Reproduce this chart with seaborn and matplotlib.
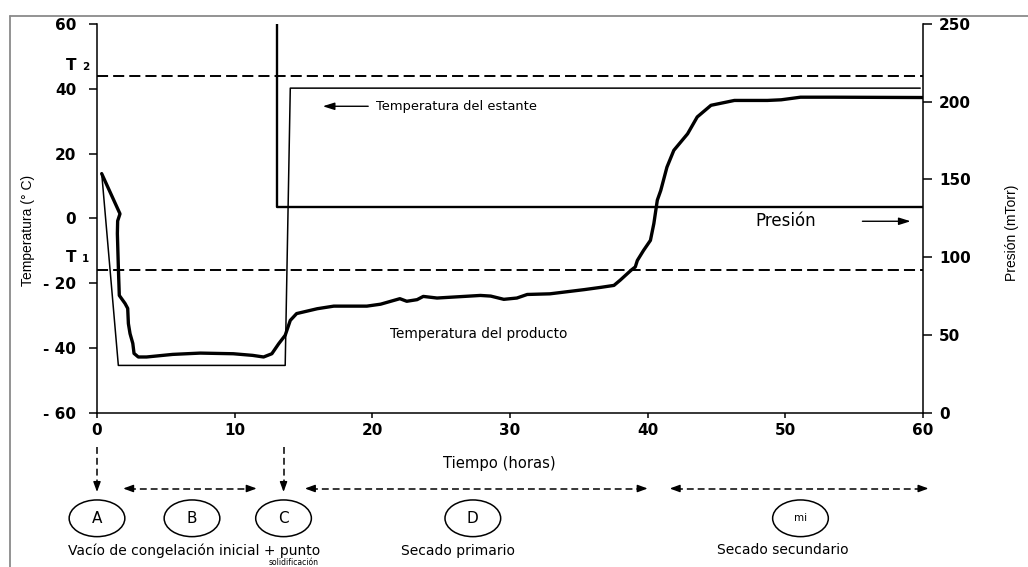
import numpy as np
import pandas as pd
import matplotlib
matplotlib.use("Agg")
import matplotlib.pyplot as plt
import matplotlib.transforms as mtransforms
from matplotlib.lines import Line2D
from matplotlib.patches import Ellipse
import seaborn as sns

# ===================== 数据 =====================
# temperatura del producto (horas, °C)
prod_t = [0.34, 1.67, 1.5, 1.48, 1.55, 1.62, 2.04, 2.23, 2.28, 2.4, 2.6, 2.69,
          3.0, 3.6, 5.5, 7.5, 9.9, 11.3, 12.1, 12.7, 13.2, 13.67, 14.04, 14.5,
          16.0, 17.2, 19.6, 20.6, 22.0, 22.5, 23.25, 23.7, 24.7, 27.85, 28.6, 29.55,
          30.5, 31.25, 32.9, 35.4, 36.6, 37.55, 38.0, 38.8, 39.1, 39.25, 39.7, 40.2, 40.45,
          40.7, 40.95, 41.4, 41.9, 42.9, 43.6, 44.6, 46.3, 48.7, 49.7, 51.1, 53.5, 60.0]
prod_temp = [13.8, 1.4, -0.8, -4.7, -15.0, -23.8, -26.3, -27.8, -32.5, -35.6, -38.6, -41.7,
             -42.8, -42.8, -42.0, -41.6, -41.8, -42.3, -42.8, -41.8, -38.7, -36.1, -31.5, -29.4,
             -27.9, -27.1, -27.1, -26.5, -24.8, -25.6, -25.1, -24.1, -24.6, -23.8, -24.0, -25.0,
             -24.6, -23.5, -23.3, -22.0, -21.3, -20.7, -19.1, -16.0, -15.0, -13.0, -9.9, -6.8, -1.6,
             5.6, 8.6, 15.8, 21.0, 26.1, 31.3, 34.9, 36.4, 36.4, 36.6, 37.4, 37.4, 37.3]

# temperatura del estante
shelf_t = [0.34, 1.55, 13.67, 14.04, 59.8]
shelf_temp = [14.0, -45.4, -45.4, 40.2, 40.2]

# presion (mTorr)
pres_t = [13.1, 13.1, 60.0]
pres_val = [250.0, 132.5, 132.5]

# limites T1 / T2
t1_val = -15.8
t2_val = 43.8

x_ticks = [0, 10, 20, 30, 40, 50, 60]
temp_ticks = [-60, -40, -20, 0, 20, 40, 60]
temp_ticklabels = ["- 60", "- 40", "- 20", "0", "20", "40", "60"]
pres_ticks = [0, 50, 100, 150, 200, 250]

# etapas del proceso
phase_labels = ["A", "B", "C", "D", "mi"]
phase_x = [0.0, 6.9, 13.55, 27.3, 51.1]
phase_spans = [(1.9, 11.6), (15.1, 40.0), (41.6, 60.4)]
marker_x = [0.0, 13.55]

df_prod = pd.DataFrame({"t": prod_t, "temp": prod_temp})
df_shelf = pd.DataFrame({"t": shelf_t, "temp": shelf_temp})
df_pres = pd.DataFrame({"t": pres_t, "p": pres_val})

# ===================== estilo =====================
sns.set_style("ticks")
plt.rcParams["font.family"] = ["DejaVu Sans"]
plt.rcParams["text.color"] = "black"
plt.rcParams["axes.edgecolor"] = "black"
plt.rcParams["xtick.color"] = "black"
plt.rcParams["ytick.color"] = "black"

W, H = 1028, 567
fig = plt.figure(figsize=(W / 100, H / 100), dpi=100)
fig.patch.set_facecolor("white")

def fy(px):
    return 1 - px / H

def fx(px):
    return px / W

ax = fig.add_axes([fx(97), fy(412.7), 826 / W, 388.7 / H])
ax2 = ax.twinx()

# curvas
sns.lineplot(data=df_prod, x="t", y="temp", ax=ax, color="black", lw=2.4,
             estimator=None, sort=False, legend=False)
sns.lineplot(data=df_shelf, x="t", y="temp", ax=ax, color="black", lw=1.1,
             estimator=None, sort=False, legend=False)
sns.lineplot(data=df_pres, x="t", y="p", ax=ax2, color="black", lw=1.7,
             estimator=None, sort=False, legend=False)
for line in ax.get_lines() + ax2.get_lines():
    line.set_solid_joinstyle("round")

ax.axhline(t2_val, color="black", lw=1.4, linestyle=(0, (5.7, 2.6)))
ax.axhline(t1_val, color="black", lw=1.4, linestyle=(0, (5.7, 2.6)))

# ejes
ax.set_xlim(0, 60)
ax.set_ylim(-60, 60)
ax2.set_ylim(0, 250)
ax.set_xlabel("")
ax.set_ylabel("")
ax2.set_ylabel("")

ax.set_xticks(x_ticks, labels=[str(v) for v in x_ticks], fontweight="bold", fontsize=11)
ax.set_yticks(temp_ticks, labels=temp_ticklabels, fontweight="bold", fontsize=11)
ax2.set_yticks(pres_ticks, labels=[str(v) for v in pres_ticks], fontweight="bold", fontsize=11)

ax.tick_params(axis="y", direction="out", length=6, width=1.1, pad=9)
ax.tick_params(axis="x", direction="out", length=3.5, width=1.1, pad=4)
ax2.tick_params(axis="y", direction="out", length=6.5, width=1.1, pad=5)

for sp in ["top", "right"]:
    ax.spines[sp].set_visible(False)
for sp in ["top", "left", "bottom"]:
    ax2.spines[sp].set_visible(False)
for sp in ax.spines.values():
    sp.set_linewidth(1.1)
ax2.spines["right"].set_linewidth(1.1)
ax.grid(False)
ax2.grid(False)

# etiquetas de ejes
fig.text(fx(28), fy(230), "Temperatura (° C)", rotation=90, ha="center", va="center",
         fontsize=10, family=["Liberation Sans", "DejaVu Sans"])
fig.text(fx(1011.7), fy(233), "Presión (mTorr)", rotation=90, ha="center", va="center",
         fontsize=10, family=["Liberation Sans", "DejaVu Sans"])

# T1 / T2
for lab, sub, base in [("T", "2", 70), ("T", "1", 262)]:
    fig.text(fx(71), fy(base), lab, ha="center", va="baseline", fontsize=11, fontweight="bold")
    fig.text(fx(85.5), fy(base), sub, ha="center", va="baseline", fontsize=7.5, fontweight="bold")

# anotaciones internas
arrow_in = dict(arrowstyle="-|>,head_length=0.7,head_width=0.22", color="black", lw=1,
                mutation_scale=10, shrinkA=0, shrinkB=0)
ax.annotate("", xy=(16.4, 34.6), xytext=(19.7, 34.6), arrowprops=arrow_in)
ax.text(20.3, 34.6, "Temperatura del estante", ha="left", va="center", fontsize=9.4)
ax.text(21.3, -35.6, "Temperatura del producto", ha="left", va="center", fontsize=9.8)
ax.text(47.8, -0.9, "Presión", ha="left", va="center", fontsize=12)
ax.annotate("", xy=(59.1, -0.9), xytext=(55.6, -0.9), arrowprops=arrow_in)

# ===================== esquema inferior =====================
trans = mtransforms.blended_transform_factory(ax.transData, fig.transFigure)
dash = (0, (4.5, 2.6))
head = dict(arrowstyle="-|>,head_length=0.6,head_width=0.22", color="black", lw=1,
            mutation_scale=10, shrinkA=0, shrinkB=0)

fig.text(29.2, fy(468.3), "Tiempo (horas)", transform=trans, ha="center", va="baseline",
         fontsize=10.6)

# flechas verticales
for xv in marker_x:
    ax.plot([xv, xv], [fy(446.7), fy(486)], transform=trans, color="black", lw=1.1,
            linestyle=dash, clip_on=False)
    ax.annotate("", xy=(xv, fy(492)), xytext=(xv, fy(484)), xycoords=trans, textcoords=trans,
                arrowprops=head, annotation_clip=False)

# flechas horizontales dobles
y_arr = fy(488.5)
dx_head = 0.45
for x0, x1 in phase_spans:
    ax.plot([x0 + dx_head, x1 - dx_head], [y_arr, y_arr], transform=trans, color="black",
            lw=1.1, linestyle=dash, clip_on=False)
    ax.annotate("", xy=(x0, y_arr), xytext=(x0 + dx_head + 0.1, y_arr), xycoords=trans,
                textcoords=trans, arrowprops=head, annotation_clip=False)
    ax.annotate("", xy=(x1, y_arr), xytext=(x1 - dx_head - 0.1, y_arr), xycoords=trans,
                textcoords=trans, arrowprops=head, annotation_clip=False)

# circulos
for lab, xc in zip(phase_labels, phase_x):
    e = Ellipse((xc, fy(518.3)), width=55.7 / 13.77, height=36.7 / H, transform=trans,
                facecolor="none", edgecolor="black", lw=1.1, clip_on=False)
    fig.add_artist(e)
    fig.text(xc, fy(518.3), lab, transform=trans, ha="center", va="center",
             fontsize=11 if lab != "mi" else 7.5)

# textos de etapas
fig.text(-2.09, fy(554.5), "Vacío de congelación inicial + punto", transform=trans,
         ha="left", va="baseline", fontsize=10)
fig.text(14.3, fy(566.8), "solidificación", transform=trans, ha="center", va="bottom",
         fontsize=5.5)
fig.text(26.2, fy(554.5), "Secado primario", transform=trans, ha="center", va="baseline",
         fontsize=10)
fig.text(49.8, fy(554.5), "Secado secundario", transform=trans, ha="center", va="baseline",
         fontsize=10)

# marco exterior
fig.add_artist(Line2D([fx(10), 1.0], [fy(15.5), fy(15.5)], transform=fig.transFigure,
                      color="#8a8a8a", lw=1.3))
fig.add_artist(Line2D([fx(10), fx(10)], [fy(15.5), 0.0], transform=fig.transFigure,
                      color="#8a8a8a", lw=1.3))

fig.savefig("out.png", dpi=100, facecolor="white")
